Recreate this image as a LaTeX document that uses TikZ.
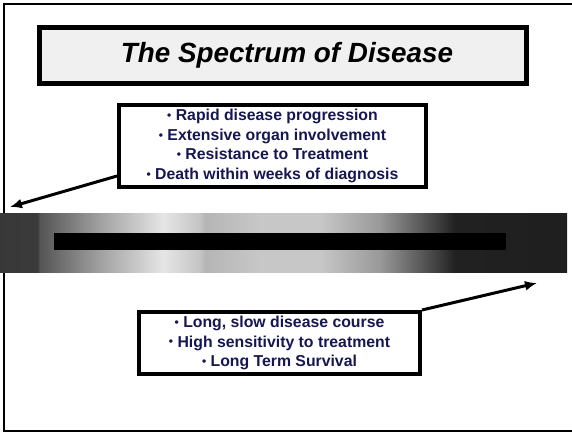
\documentclass[tikz,border=0pt]{standalone}
\usepackage{fontspec}
\setmainfont{Liberation Sans}
\usetikzlibrary{arrows.meta}

\definecolor{azuloscuro}{RGB}{22,22,82}
\definecolor{fondotitulo}{RGB}{240,240,240}

% Degradado de la barra (de agresiva a indolente)
\pgfdeclarehorizontalshading{barraespectro}{100bp}{%
  color(0bp)=(black!78); color(25bp)=(black!78);
  color(28.3bp)=(black!77); color(28.5bp)=(black!67);
  color(33.8bp)=(black!37); color(39.4bp)=(black!10);
  color(42.6bp)=(black!23); color(43.1bp)=(black!29);
  color(47.9bp)=(black!22); color(53.2bp)=(black!22);
  color(58.5bp)=(black!40); color(63.8bp)=(black!77);
  color(65.1bp)=(black!87); color(75bp)=(black!88);
  color(100bp)=(black!88)}

% Viñeta
\newcommand{\vin}{\raisebox{1.2pt}{\fontsize{12}{12}\selectfont\textbullet}\ }

\begin{document}
\begin{tikzpicture}[x=1pt, y=-1pt, >={Latex[length=12pt,width=10pt]},
    caja/.style={draw, line width=4pt, fill=white, align=center, inner sep=0pt,
      text=azuloscuro, font=\bfseries\fontsize{15.8}{19.5}\selectfont},
    flecha/.style={->, line width=3pt}]
    \useasboundingbox (0,0) rectangle (572,433);

    % Marco de la diapositiva
    \draw[line width=2.5pt] (572,4) -- (4,4) -- (4,431) -- (572,431);

    % Titulo
    \node[draw, line width=5pt, fill=fondotitulo, inner sep=0pt,
        minimum width=487pt, minimum height=56pt,
        font=\bfseries\itshape\fontsize{27.8}{32}\selectfont] (titulo) at (283,55.5)
        {\hspace*{8pt}The Spectrum of Disease};

    % Barra del espectro
    \shade[shading=barraespectro] (0,213) rectangle (567,272);
    \fill[black] (54,233) rectangle (506,250);

    % Extremo agresivo
    \node[caja, minimum width=307pt, minimum height=82pt] (agresiva) at (272.5,146)
        {\vin Rapid disease progression\\
         \vin Extensive organ involvement\\
         \vin Resistance to Treatment\\
         \vin Death within weeks of diagnosis};
    \coordinate (izq) at (10,207);
    \draw[flecha] ([yshift=13pt]agresiva.south west) -- (izq);

    % Extremo indolente
    \node[caja, minimum width=281pt, minimum height=62pt] (indolente) at (279.5,343)
        {\vin Long, slow disease course\\
         \vin High sensitivity to treatment\\
         \vin Long Term Survival};
    \coordinate (der) at (537,283);
    \draw[flecha] (indolente.north east) -- (der);
\end{tikzpicture}
\end{document}
